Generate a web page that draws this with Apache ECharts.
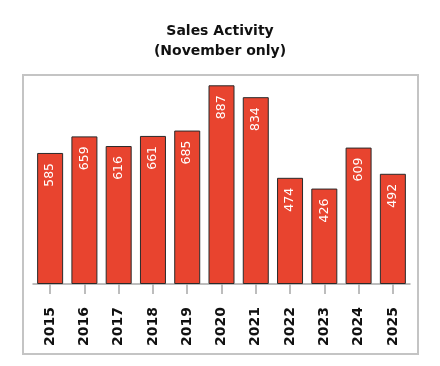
<!DOCTYPE html>
<html>
<head>
<meta charset="utf-8">
<script src="https://cdn.jsdelivr.net/npm/echarts@6/dist/echarts.min.js"></script>
<style>
html,body{margin:0;padding:0;background:#fff;}
#main{width:440px;height:366px;}
</style>
</head>
<body>
<div id="main"></div>
<script>
var years = ['2015','2016','2017','2018','2019','2020','2021','2022','2023','2024','2025'];
var sales = [585, 659, 616, 661, 685, 887, 834, 474, 426, 609, 492];
var titleText = 'Sales Activity\n(November only)';

var chart = echarts.init(document.getElementById('main'), null, {renderer: 'canvas'});
chart.setOption({
  animation: false,
  backgroundColor: '#fff',
  title: {
    text: titleText,
    left: 'center',
    top: 16,
    textStyle: {fontFamily: 'DejaVu Sans', fontSize: 14, fontWeight: 'bold', color: '#111', lineHeight: 20}
  },
  graphic: [{
    type: 'rect',
    shape: {x: 23, y: 75, width: 395, height: 279},
    style: {fill: 'none', stroke: '#c4c4c4', lineWidth: 2},
    silent: true
  }],
  grid: {left: 33, right: 30, top: 60, bottom: 82},
  xAxis: {
    type: 'category',
    data: years,
    axisLine: {lineStyle: {color: '#a8a8a8', width: 1.5}},
    axisTick: {show: true, alignWithLabel: true, length: 10, lineStyle: {color: '#a8a8a8', width: 1.5}},
    axisLabel: {rotate: 90, margin: 23, fontFamily: 'DejaVu Sans', fontSize: 14, fontWeight: 'bold', color: '#111'}
  },
  yAxis: {
    type: 'value', min: 0, max: 1000, show: false
  },
  series: [{
    type: 'bar',
    data: sales,
    barWidth: 26,
    itemStyle: {color: '#E8442F', borderColor: '#2a2a2a', borderWidth: 1},
    label: {
      show: true,
      position: 'insideTop',
      distance: 10,
      rotate: 90,
      align: 'right',
      verticalAlign: 'middle',
      fontFamily: 'DejaVu Sans',
      fontSize: 12.5,
      color: '#fff'
    }
  }]
});
</script>
</body>
</html>
